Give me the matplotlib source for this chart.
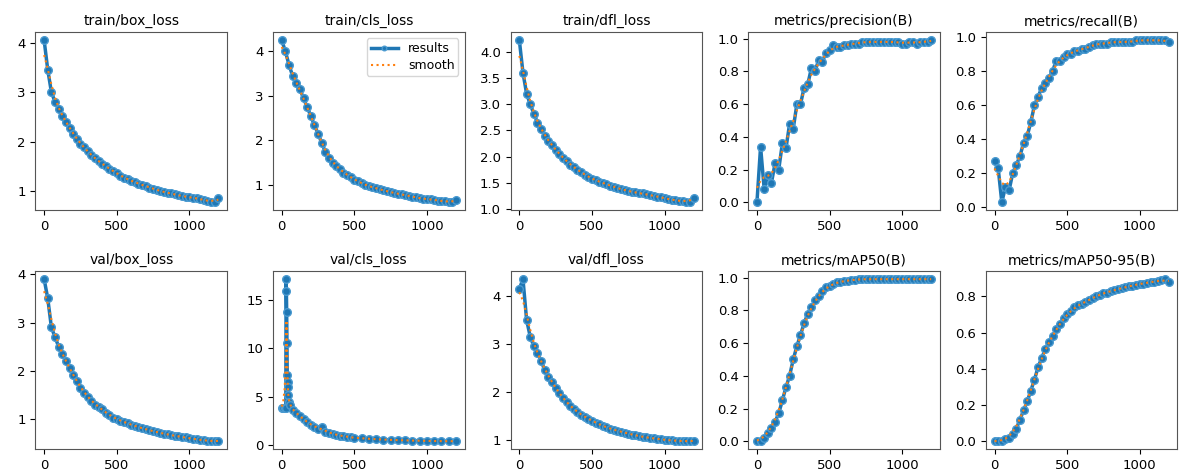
import numpy as np
import matplotlib
matplotlib.use("Agg")
import matplotlib.pyplot as plt

epochs = list(range(0, 1201, 25))

titles = ["train/box_loss", "train/cls_loss", "train/dfl_loss", "metrics/precision(B)", "metrics/recall(B)",
          "val/box_loss", "val/cls_loss", "val/dfl_loss", "metrics/mAP50(B)", "metrics/mAP50-95(B)"]

train_box = [4.05, 3.45, 3.0, 2.8, 2.65, 2.52, 2.4, 2.28, 2.15, 2.05, 1.95, 1.88, 1.8, 1.72, 1.66, 1.6,
             1.55, 1.5, 1.45, 1.4, 1.36, 1.31, 1.27, 1.24, 1.2, 1.18, 1.15, 1.12, 1.1, 1.07, 1.05, 1.02,
             1.0, 0.98, 0.96, 0.95, 0.93, 0.91, 0.9, 0.88, 0.88, 0.86, 0.85, 0.84, 0.82, 0.8, 0.77, 0.78, 0.85]
train_cls = [4.25, 4.0, 3.7, 3.45, 3.3, 3.15, 2.95, 2.75, 2.55, 2.35, 2.15, 1.95, 1.75, 1.6, 1.5, 1.42,
             1.35, 1.28, 1.22, 1.18, 1.12, 1.08, 1.04, 1.0, 0.97, 0.95, 0.93, 0.9, 0.88, 0.86, 0.84, 0.82,
             0.8, 0.79, 0.77, 0.76, 0.74, 0.72, 0.7, 0.69, 0.68, 0.68, 0.67, 0.65, 0.64, 0.63, 0.62, 0.61, 0.66]
train_dfl = [4.22, 3.6, 3.2, 3.0, 2.82, 2.65, 2.52, 2.4, 2.3, 2.22, 2.13, 2.05, 1.98, 1.92, 1.85, 1.8,
             1.75, 1.7, 1.66, 1.62, 1.58, 1.55, 1.52, 1.5, 1.48, 1.45, 1.43, 1.4, 1.38, 1.36, 1.35, 1.33,
             1.32, 1.3, 1.3, 1.28, 1.27, 1.25, 1.24, 1.23, 1.21, 1.19, 1.18, 1.17, 1.16, 1.15, 1.14, 1.13, 1.22]
precision = [0.0, 0.34, 0.08, 0.17, 0.12, 0.24, 0.2, 0.36, 0.33, 0.48, 0.45, 0.6, 0.6, 0.7, 0.72, 0.82,
             0.8, 0.87, 0.86, 0.91, 0.93, 0.96, 0.95, 0.95, 0.96, 0.96, 0.97, 0.97, 0.97, 0.98, 0.98, 0.98,
             0.98, 0.98, 0.98, 0.98, 0.98, 0.98, 0.98, 0.98, 0.97, 0.97, 0.98, 0.98, 0.97, 0.98, 0.98, 0.98, 0.99]
recall = [0.27, 0.23, 0.03, 0.12, 0.1, 0.2, 0.25, 0.3, 0.38, 0.42, 0.5, 0.6, 0.65, 0.7, 0.73, 0.76,
          0.8, 0.86, 0.86, 0.88, 0.9, 0.9, 0.92, 0.92, 0.93, 0.93, 0.94, 0.95, 0.96, 0.96, 0.96, 0.96,
          0.97, 0.97, 0.97, 0.97, 0.97, 0.97, 0.97, 0.98, 0.98, 0.98, 0.98, 0.98, 0.98, 0.98, 0.98, 0.98, 0.97]
val_box = [3.9, 3.5, 2.9, 2.7, 2.5, 2.35, 2.2, 2.05, 1.92, 1.78, 1.65, 1.55, 1.45, 1.38, 1.3, 1.25,
           1.2, 1.13, 1.08, 1.03, 1.0, 0.97, 0.94, 0.91, 0.88, 0.86, 0.83, 0.81, 0.79, 0.77, 0.75, 0.73,
           0.71, 0.7, 0.68, 0.67, 0.65, 0.64, 0.63, 0.62, 0.6, 0.59, 0.58, 0.57, 0.56, 0.55, 0.54, 0.54, 0.55]
val_cls_epochs = [0, 10, 20, 28, 30, 32, 34, 36, 38, 40, 42, 45, 50, 60, 75, 100, 125, 150, 175, 200, 225,
                  250, 275, 300, 325, 350, 375, 400, 425, 450, 475, 500, 550, 600, 650, 700, 750, 800, 850,
                  900, 950, 1000, 1050, 1100, 1150, 1200]
val_cls = [3.9, 3.9, 3.85, 3.9, 17.1, 15.9, 13.7, 10.5, 7.2, 6.5, 6.0, 5.2, 4.5, 4.2, 3.6, 3.3, 3.0, 2.7,
           2.4, 2.1, 1.9, 1.7, 1.9, 1.4, 1.3, 1.2, 1.1, 1.0, 0.95, 0.9, 0.85, 0.8, 0.72, 0.68, 0.63, 0.6,
           0.57, 0.54, 0.52, 0.5, 0.48, 0.46, 0.45, 0.44, 0.43, 0.43]
val_dfl = [4.15, 4.35, 3.5, 3.15, 2.95, 2.8, 2.65, 2.45, 2.32, 2.2, 2.08, 1.97, 1.87, 1.78, 1.7, 1.64,
           1.58, 1.52, 1.48, 1.44, 1.4, 1.36, 1.32, 1.29, 1.26, 1.23, 1.21, 1.19, 1.17, 1.15, 1.13, 1.11,
           1.09, 1.08, 1.06, 1.05, 1.04, 1.03, 1.02, 1.01, 1.0, 0.99, 0.99, 0.98, 0.98, 0.97, 0.97, 0.97, 0.98]
map50 = [0.0, 0.0, 0.02, 0.05, 0.08, 0.12, 0.17, 0.25, 0.33, 0.4, 0.5, 0.58, 0.65, 0.72, 0.78, 0.82,
         0.86, 0.89, 0.92, 0.94, 0.95, 0.96, 0.97, 0.975, 0.98, 0.98, 0.985, 0.985, 0.99, 0.99, 0.99, 0.99,
         0.99, 0.99, 0.99, 0.99, 0.99, 0.99, 0.99, 0.99, 0.99, 0.99, 0.99, 0.99, 0.99, 0.99, 0.99, 0.99, 0.99]
map50_95 = [0.0, 0.0, 0.0, 0.01, 0.02, 0.04, 0.07, 0.12, 0.17, 0.22, 0.28, 0.34, 0.41, 0.46, 0.51, 0.55,
            0.58, 0.62, 0.65, 0.68, 0.7, 0.72, 0.74, 0.75, 0.76, 0.77, 0.78, 0.79, 0.8, 0.81, 0.82, 0.82,
            0.83, 0.835, 0.84, 0.845, 0.85, 0.855, 0.86, 0.865, 0.87, 0.87, 0.875, 0.88, 0.88, 0.885, 0.89,
            0.895, 0.88]

series = [(epochs, train_box), (epochs, train_cls), (epochs, train_dfl), (epochs, precision), (epochs, recall),
          (epochs, val_box), (val_cls_epochs, val_cls), (epochs, val_dfl), (epochs, map50), (epochs, map50_95)]


def smooth(y, sigma=1.5):
    y = np.asarray(y, dtype=float)
    r = int(3 * sigma)
    k = np.exp(-0.5 * (np.arange(-r, r + 1) / sigma) ** 2)
    k /= k.sum()
    yp = np.pad(y, r, mode="edge")
    return np.convolve(yp, k, mode="valid")


fig, axes = plt.subplots(2, 5, figsize=(11.81, 4.73), dpi=100)
fig.subplots_adjust(left=0.03, right=0.997, bottom=0.05, top=0.932, wspace=0.24, hspace=0.34)

for ax, title, (x, y) in zip(axes.ravel(), titles, series):
    ax.plot(x, y, marker="o", markersize=5.5, linewidth=2.5, color="#1f77b4",
            markeredgecolor="#4a9ad0", markeredgewidth=1.0, label="results")
    ax.plot(x, smooth(y), ":", linewidth=1.5, color="#ff7f0e", label="smooth")
    ax.set_title(title, fontsize=10, pad=5)
    ax.set_xticks([0, 500, 1000])
    ax.tick_params(labelsize=9.5)
    for s in ax.spines.values():
        s.set_color("#555555")

axes[0, 2].set_yticks([1.0, 1.5, 2.0, 2.5, 3.0, 3.5, 4.0])
axes[0, 2].set_yticklabels(["1.0", "1.5", "2.0", "2.5", "3.0", "3.5", "4.0"])

axes[0, 1].legend(loc="upper right", fontsize=9, handlelength=2.2, borderpad=0.3, labelspacing=0.3,
                  markerscale=0.6)

fig.savefig("out.png", dpi=100)
